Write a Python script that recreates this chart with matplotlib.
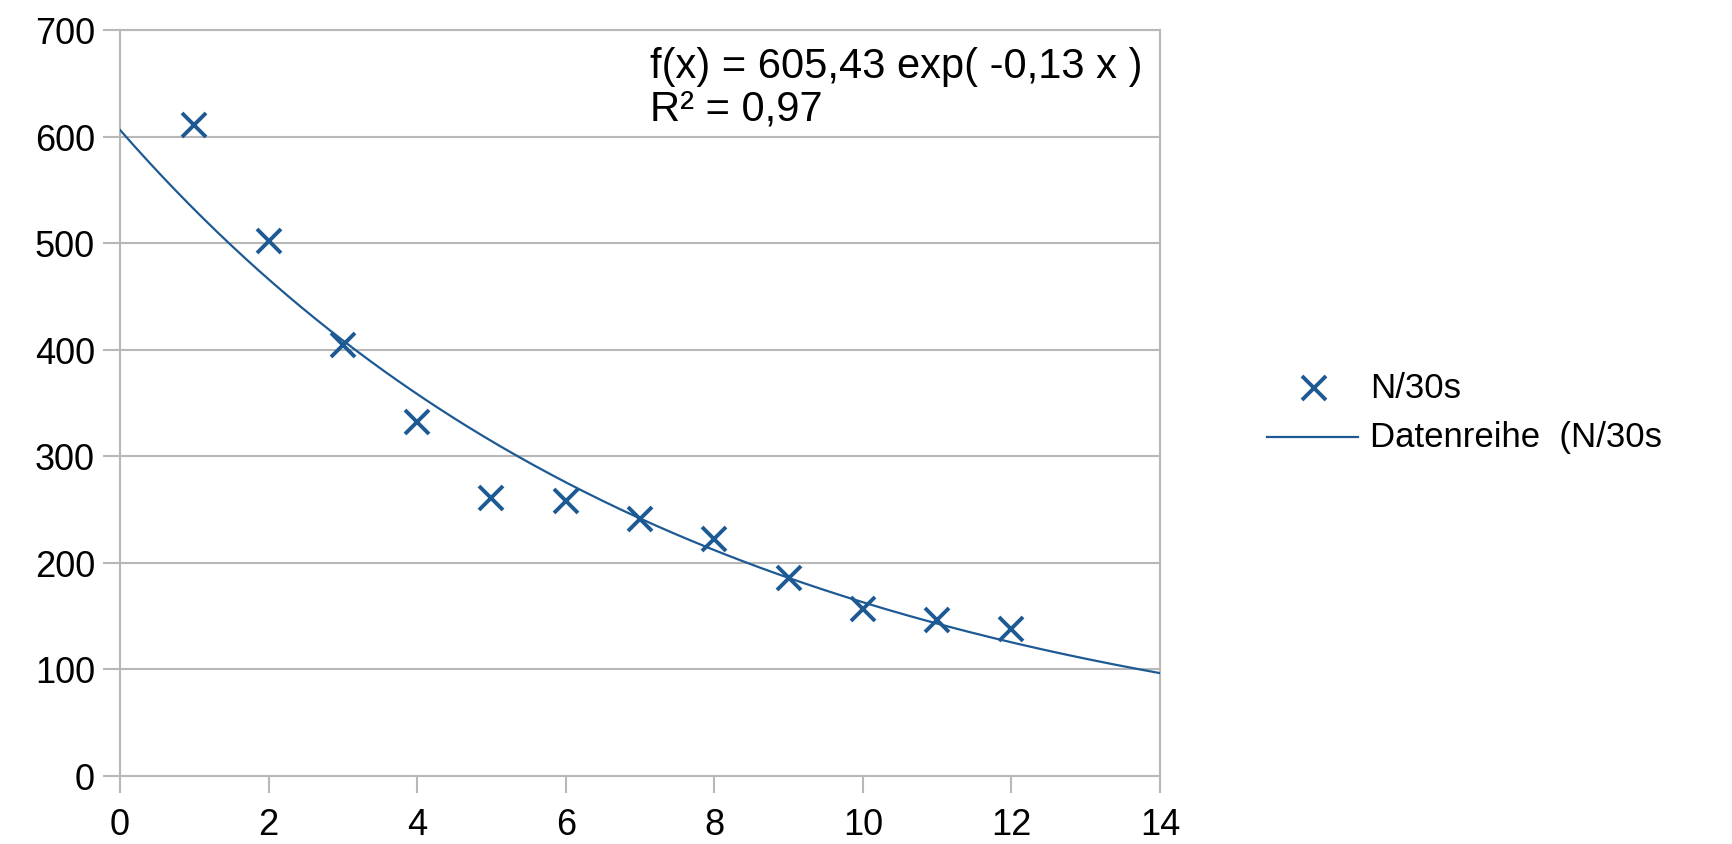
import numpy as np
import matplotlib
matplotlib.use("Agg")
import matplotlib.pyplot as plt
from matplotlib.lines import Line2D

plt.rcParams['font.family'] = ['Liberation Sans', 'DejaVu Sans']

# Data
x_vals = [1, 2, 3, 4, 5, 6, 7, 8, 9, 10, 11, 12]
n_per_30s = [611, 502, 404, 332, 261, 258, 241, 222, 185, 156, 146, 138]
x_ticks = [0, 2, 4, 6, 8, 10, 12, 14]
y_ticks = [0, 100, 200, 300, 400, 500, 600, 700]
series_label = "N/30s"
trend_label = "Datenreihe  (N/30s"
eq_line1 = "f(x) = 605,43 exp( -0,13 x )"
eq_line2 = "R² = 0,97"

blue = "#1d5a94"
grid_c = "#b8b8b8"
txt_c = "#000000"

W, H = 1732, 845
fig = plt.figure(figsize=(W / 100, H / 100), dpi=100)
ax = fig.add_axes([120 / W, 68.5 / H, (1160 - 120) / W, (776.5 - 31) / H])

# exponential trendline (least squares on log values, as the spreadsheet does)
slope, intercept = np.polyfit(np.array(x_vals), np.log(np.array(n_per_30s)), 1)
xt = np.linspace(x_ticks[0], x_ticks[-1], 300)
ax.plot(xt, np.exp(intercept) * np.exp(slope * xt), color=blue, lw=1.6, zorder=3)

ax.plot(x_vals, n_per_30s, linestyle='none', marker='x', markersize=17,
        markeredgewidth=2.8, color=blue, zorder=4)

ax.set_xlim(x_ticks[0], x_ticks[-1])
ax.set_ylim(y_ticks[0], y_ticks[-1])
ax.set_xticks(x_ticks)
ax.set_yticks(y_ticks)
ax.grid(axis='y', color=grid_c, lw=1.5)
ax.set_axisbelow(True)
for s in ax.spines.values():
    s.set_color(grid_c)
    s.set_linewidth(1.5)
ax.tick_params(axis='both', colors=grid_c, length=12, width=1.5, labelsize=26,
               labelcolor=txt_c)
ax.tick_params(axis='y', pad=6)
ax.tick_params(axis='x', pad=11)

# trendline equation
fig.text(650 / W, 1 - 78 / H, eq_line1, fontsize=30, va='baseline', ha='left', color=txt_c)
fig.text(650 / W, 1 - 121 / H, eq_line2, fontsize=30, va='baseline', ha='left', color=txt_c)

# legend (manually placed, text runs off right edge like the reference)
fig.add_artist(Line2D([1314 / W], [1 - 389 / H], marker='x', markersize=17,
                      markeredgewidth=2.8, color=blue, linestyle='none',
                      transform=fig.transFigure))
fig.text(1370 / W, 1 - 389 / H, series_label, fontsize=25, va='center',
         ha='left', color=txt_c)
fig.add_artist(Line2D([1267 / W, 1358 / W], [1 - 438 / H, 1 - 438 / H],
                      color=blue, lw=1.6, transform=fig.transFigure))
fig.text(1370 / W, 1 - 438 / H, trend_label, fontsize=25, va='center',
         ha='left', color=txt_c)

fig.savefig("out.png", dpi=100)
